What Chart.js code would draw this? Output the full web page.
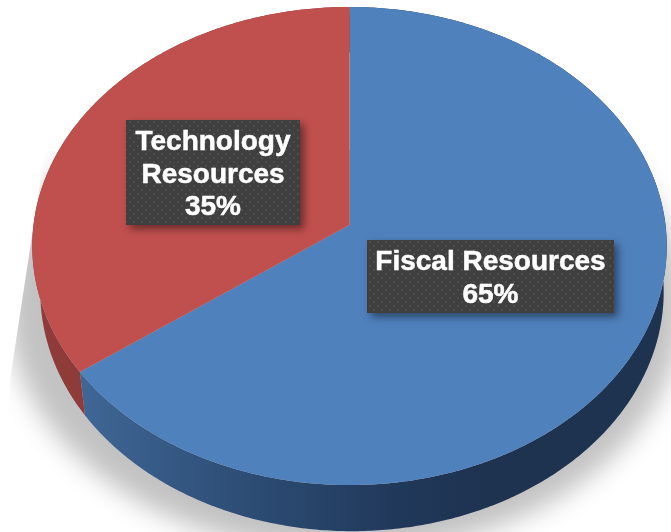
<!DOCTYPE html>
<html>
<head>
<meta charset="utf-8">
<style>
    html, body { margin: 0; padding: 0; background: #fff; }
    canvas { display: block; }
</style>
<script src="https://cdn.jsdelivr.net/npm/chart.js@4/dist/chart.umd.min.js"></script>
</head>
<body>
<canvas id="pieChart" width="671" height="532"></canvas>
<script>
    const categories = ['Fiscal Resources', 'Technology Resources'];
    const shares = [65, 35];

    const labelLines = [['Fiscal Resources'], ['Technology', 'Resources']];
    const topColors = ['#4f81bd', '#c0504d'];

    // tilted disc: a circle seen in perspective, top face and underside
    const topPlane = {x: 349.5, y: 225, bx: 316, by: 237.2, c: -0.0879};
    const lowPlane = {x: 352, y: 267, bx: 310, by: 236.7, c: -0.104};

    // label boxes, same order as categories (lineY = text baselines)
    const boxes = [
        {x: 367, y: 240, w: 247, h: 73, lineY: [270, 303]},
        {x: 126, y: 120, w: 174, h: 105, lineY: [149.5, 182.5, 215]}
    ];

    function project(plane, a) {
        const u = Math.cos(a), v = Math.sin(a);
        const d = 1 + plane.c * v;
        return [plane.x + plane.bx * u / d, plane.y + plane.by * v / d];
    }

    function arcPoints(plane, start, end) {
        const pts = [];
        const n = Math.ceil((end - start) / 0.01);
        for (let i = 0; i <= n; i++) {
            pts.push(project(plane, start + (end - start) * i / n));
        }
        return pts;
    }

    function tracePoly(ctx, pts) {
        ctx.beginPath();
        pts.forEach(function (p, i) {
            if (i === 0) ctx.moveTo(p[0], p[1]); else ctx.lineTo(p[0], p[1]);
        });
        ctx.closePath();
    }

    function fillPoly(ctx, pts, fill) {
        tracePoly(ctx, pts);
        ctx.fillStyle = fill;
        ctx.fill();
    }

    function dotPattern(ctx) {
        const c = document.createElement('canvas');
        c.width = 8;
        c.height = 8;
        const g = c.getContext('2d');
        g.fillStyle = '#3f3f3f';
        g.fillRect(0, 0, 8, 8);
        g.fillStyle = '#515151';
        g.beginPath();
        g.arc(2, 2, 1.1, 0, Math.PI * 2);
        g.arc(6, 6, 1.1, 0, Math.PI * 2);
        g.fill();
        return ctx.createPattern(c, 'repeat');
    }

    const disc3d = {
        id: 'disc3d',
        beforeDatasetsDraw: function (chart) {
            const ctx = chart.ctx;
            const arcs = chart.getDatasetMeta(0).data;

            // soft shadow under the disc, cut along its upper left side
            ctx.save();
            tracePoly(ctx, [[45, 150], [10, 380], [0, 532], [671, 532], [671, 150]]);
            ctx.clip();
            ctx.filter = 'blur(13px)';
            ctx.beginPath();
            ctx.ellipse(345, 305, 338, 248, 0, 0, Math.PI * 2);
            ctx.fillStyle = '#c2c2c2';
            ctx.fill();
            ctx.restore();

            // side wall first, the top face covers the back part
            const wallBlue = ctx.createLinearGradient(85, 0, 480, 0);
            wallBlue.addColorStop(0, '#3f6695');
            wallBlue.addColorStop(0.35, '#2f5079');
            wallBlue.addColorStop(0.8, '#20385a');
            wallBlue.addColorStop(1, '#1e3350');
            const wallFills = [wallBlue, '#8f3b39'];
            arcs.forEach(function (arc, i) {
                const up = arcPoints(topPlane, arc.startAngle, arc.endAngle);
                const low = arcPoints(lowPlane, arc.startAngle, arc.endAngle).reverse();
                fillPoly(ctx, up.concat(low), wallFills[i]);
            });

            arcs.forEach(function (arc) {
                const pts = arcPoints(topPlane, arc.startAngle, arc.endAngle);
                pts.push([topPlane.x, topPlane.y]);
                fillPoly(ctx, pts, arc.options.backgroundColor);
            });

            // labels
            const pattern = dotPattern(ctx);
            boxes.forEach(function (box, i) {
                ctx.save();
                ctx.shadowColor = 'rgba(0,0,0,0.45)';
                ctx.shadowBlur = 8;
                ctx.shadowOffsetX = 4;
                ctx.shadowOffsetY = 4;
                ctx.fillStyle = '#3f3f3f';
                ctx.fillRect(box.x, box.y, box.w, box.h);
                ctx.restore();
                ctx.fillStyle = pattern;
                ctx.fillRect(box.x, box.y, box.w, box.h);

                ctx.fillStyle = '#ffffff';
                ctx.strokeStyle = '#ffffff';
                ctx.lineWidth = 0.5;
                ctx.font = 'bold 28px "Liberation Sans", Arial, sans-serif';
                ctx.textAlign = 'center';
                ctx.textBaseline = 'alphabetic';
                const lines = labelLines[i].concat(shares[i] + '%');
                lines.forEach(function (line, k) {
                    ctx.fillText(line, box.x + box.w / 2, box.lineY[k]);
                    ctx.strokeText(line, box.x + box.w / 2, box.lineY[k]);
                });
            });
            return false;
        }
    };

    const chart = new Chart(document.getElementById('pieChart').getContext('2d'), {
        type: 'pie',
        data: {
            labels: categories,
            datasets: [{
                data: shares,
                backgroundColor: topColors,
                borderWidth: 0
            }]
        },
        options: {
            responsive: false,
            animation: false,
            plugins: {
                legend: {display: false},
                tooltip: {enabled: false}
            }
        },
        plugins: [disc3d]
    });
</script>
</body>
</html>
